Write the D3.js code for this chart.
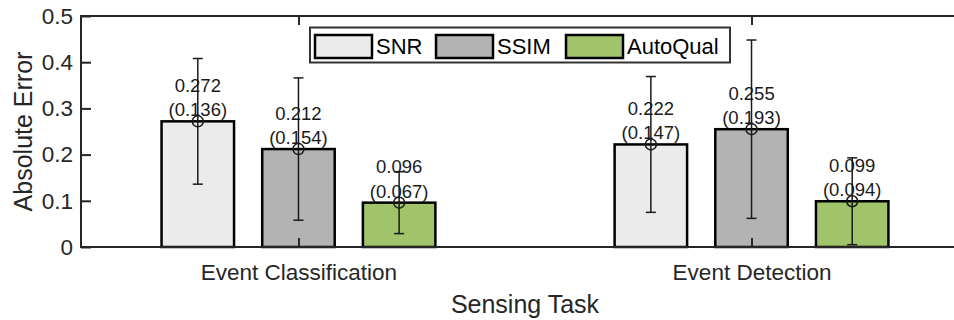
<!DOCTYPE html>
<html>
<head>
<meta charset="utf-8">
<script src="https://cdn.jsdelivr.net/npm/d3@7/dist/d3.min.js"></script>
<style>
  html, body { margin: 0; padding: 0; background: #fff; }
  svg { display: block; font-family: Arial, "Liberation Sans", Helvetica, sans-serif; }
</style>
</head>
<body>
<svg id="chart" width="954" height="320"></svg>
<script>
// Sensing tasks (x categories) and quality metrics (bar series)
const tasks = ["Event Classification", "Event Detection"];
const methods = ["SNR", "SSIM", "AutoQual"];

// Mean absolute error and its standard deviation, per task
const snrMean = [0.272, 0.222];
const snrStd = [0.136, 0.147];
const ssimMean = [0.212, 0.255];
const ssimStd = [0.154, 0.193];
const autoQualMean = [0.096, 0.099];
const autoQualStd = [0.067, 0.094];

const yTicks = [0, 0.1, 0.2, 0.3, 0.4, 0.5];
const yTickLabels = ["0", "0.1", "0.2", "0.3", "0.4", "0.5"];

const xLabel = "Sensing Task";
const yLabel = "Absolute Error";

const seriesMeans = [snrMean, ssimMean, autoQualMean];
const seriesStds = [snrStd, ssimStd, autoQualStd];
const seriesColors = ["#ebebeb", "#b3b3b3", "#a1c46b"];

const rows = [];
methods.forEach((m, s) => {
  tasks.forEach((t, i) => {
    rows.push({ method: m, s, task: i, mean: seriesMeans[s][i], std: seriesStds[s][i] });
  });
});

const svg = d3.select("#chart");
const axisColor = "#262626";
const inkColor = "#1a1a1a";
const fontStack = "Arial, 'Liberation Sans', Helvetica, sans-serif";

const plotLeft = 81, plotRight = 969, plotTop = 16, plotBottom = 247;

// Categories sit at 1 and 2 on a numeric axis, grouped bars offset around them
const x = d3.scaleLinear().domain([0.52, 2.48]).range([plotLeft, plotRight]);
const y = d3.scaleLinear().domain([0, 0.5]).range([plotBottom, plotTop]);
const groupOffset = 0.2222;
const barW = 0.16;
const xc = d => x(d.task + 1 + (d.s - 1) * groupOffset);

// Bars
svg.append("g").selectAll("rect")
  .data(rows).join("rect")
  .attr("x", d => xc(d) - (x(barW) - x(0)) / 2)
  .attr("width", x(barW) - x(0))
  .attr("y", d => y(d.mean))
  .attr("height", d => y(0) - y(d.mean))
  .attr("fill", d => seriesColors[d.s])
  .attr("stroke", "#000")
  .attr("stroke-width", 2.5);

// Value labels: mean on the first line, standard deviation below it
const lab = svg.append("g")
  .attr("font-size", 18.5)
  .attr("fill", inkColor)
  .attr("text-anchor", "middle");
lab.selectAll("text.m").data(rows).join("text")
  .attr("class", "m")
  .attr("x", d => xc(d))
  .attr("y", d => y(d.mean) - 29.5)
  .text(d => d3.format(".3f")(d.mean));
lab.selectAll("text.sd").data(rows).join("text")
  .attr("class", "sd")
  .attr("x", d => xc(d))
  .attr("y", d => y(d.mean) - 5)
  .text(d => "(" + d3.format(".3f")(d.std) + ")");

// Error bars with caps and a circle at the mean
const eb = svg.append("g")
  .attr("stroke", inkColor)
  .attr("stroke-width", 1.5)
  .attr("fill", "none");
eb.selectAll("line.v").data(rows).join("line")
  .attr("class", "v")
  .attr("x1", d => xc(d)).attr("x2", d => xc(d))
  .attr("y1", d => y(d.mean - d.std)).attr("y2", d => y(d.mean + d.std));
["lo", "hi"].forEach(k => {
  eb.selectAll("line." + k).data(rows).join("line")
    .attr("class", k)
    .attr("x1", d => xc(d) - 5).attr("x2", d => xc(d) + 5)
    .attr("y1", d => y(k === "lo" ? d.mean - d.std : d.mean + d.std))
    .attr("y2", d => y(k === "lo" ? d.mean - d.std : d.mean + d.std));
});
eb.selectAll("circle").data(rows).join("circle")
  .attr("cx", d => xc(d)).attr("cy", d => y(d.mean)).attr("r", 5.5);

// Axes frame: bottom and top lines, left spine
const frame = svg.append("g").attr("stroke", axisColor).attr("stroke-width", 2).attr("fill", "none");
frame.append("line").attr("x1", plotLeft).attr("x2", plotRight).attr("y1", plotBottom).attr("y2", plotBottom);
frame.append("line").attr("x1", plotLeft).attr("x2", plotRight).attr("y1", plotTop).attr("y2", plotTop);
frame.append("line").attr("x1", plotLeft).attr("x2", plotLeft).attr("y1", plotTop - 1).attr("y2", plotBottom + 1);

// Y axis: inward ticks, labels on the left
const yAxis = d3.axisLeft(y).tickValues(yTicks)
  .tickFormat((d, i) => yTickLabels[i]).tickSizeInner(-10).tickSizeOuter(0).tickPadding(8);
const gy = svg.append("g").attr("transform", `translate(${plotLeft},0)`).call(yAxis);
gy.select(".domain").remove();
gy.selectAll(".tick line").attr("stroke", axisColor).attr("stroke-width", 2);
gy.selectAll(".tick text").attr("fill", axisColor).attr("font-size", 22.5)
  .attr("font-family", fontStack);

// X axis: inward ticks at category centers (bottom and top), category labels below
const xAxis = d3.axisBottom(x).tickValues([1, 2])
  .tickFormat((d, i) => tasks[i]).tickSizeInner(-9).tickSizeOuter(0).tickPadding(17);
const gx = svg.append("g").attr("transform", `translate(0,${plotBottom})`).call(xAxis);
gx.select(".domain").remove();
gx.selectAll(".tick line").attr("stroke", axisColor).attr("stroke-width", 2);
gx.selectAll(".tick text").attr("fill", axisColor).attr("font-size", 22.5)
  .attr("font-family", fontStack);
const gxTop = svg.append("g").attr("transform", `translate(0,${plotTop})`)
  .call(d3.axisTop(x).tickValues([1, 2]).tickFormat("").tickSizeInner(-9).tickSizeOuter(0));
gxTop.select(".domain").remove();
gxTop.selectAll(".tick line").attr("stroke", axisColor).attr("stroke-width", 2);

// Axis titles
svg.append("text")
  .attr("x", (plotLeft + plotRight) / 2).attr("y", 313)
  .attr("text-anchor", "middle").attr("font-size", 25).attr("fill", axisColor)
  .text(xLabel);
svg.append("text")
  .attr("transform", `translate(31.5,${(plotTop + plotBottom) / 2}) rotate(-90)`)
  .attr("text-anchor", "middle").attr("font-size", 25).attr("fill", axisColor)
  .text(yLabel);

// Legend
const legend = svg.append("g");
legend.append("rect")
  .attr("x", 310).attr("y", 27.5).attr("width", 420).attr("height", 35)
  .attr("fill", "#fff").attr("stroke", "#333").attr("stroke-width", 2);
const legendX = [315, 436, 566];
methods.forEach((m, s) => {
  legend.append("rect")
    .attr("x", legendX[s]).attr("y", 35).attr("width", 57).attr("height", 23)
    .attr("fill", seriesColors[s]).attr("stroke", "#000").attr("stroke-width", 2.5);
  legend.append("text")
    .attr("x", legendX[s] + 61).attr("y", 54)
    .attr("font-size", 22).attr("fill", "#000")
    .text(m);
});
</script>
</body>
</html>
